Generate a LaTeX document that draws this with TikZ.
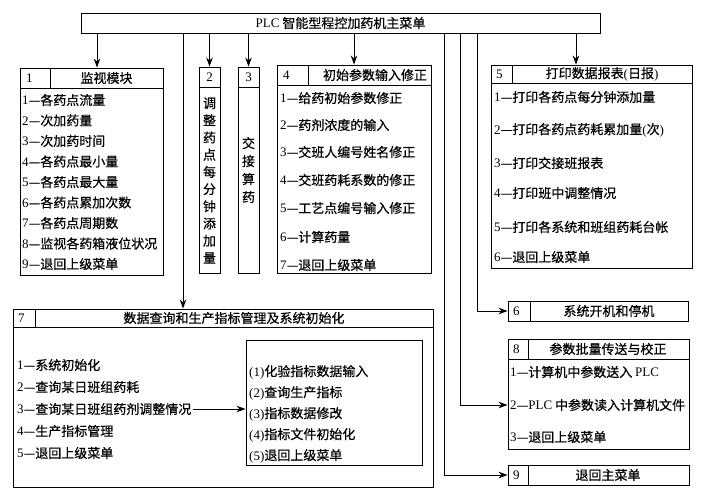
\documentclass[tikz,border=0pt]{standalone}
\usepackage{fontspec}
\setmainfont{Noto Sans CJK SC}[FakeBold=0.5]
\newfontfamily\latinf{Liberation Serif}
\usetikzlibrary{arrows.meta,fit}
\newcommand\lt[1]{{\latinf #1}}
\begin{document}
\begin{tikzpicture}[x=1pt,y=-1pt,
  box/.style={draw,line width=0.9pt,inner sep=0pt},
  txt/.style={inner sep=0pt,anchor=west,font=\fontsize{13}{14}\selectfont},
  ctxt/.style={inner sep=0pt,font=\fontsize{13}{14}\selectfont},
  arr/.style={line width=0.9pt,-{Stealth[length=9pt,width=6.5pt]}},
  ln/.style={line width=0.9pt}]
\useasboundingbox[fill=white] (0,0) rectangle (706,501);

% main
\node[box,fit={(81,13)(600,33)}] (main) {};
\node[ctxt] (mt) at (main.center) {\lt{PLC} 智能型程控加药机主菜单};

% box 1
\node[box,fit={(20,68)(163,275)}] (b1) {};
\node[box,fit={(20,68)(163,88)}] (b1h) {};
\node[box,fit={(20,68)(50,88)}] (b1n) {};
\node[txt] (b1nt) at (26,78) {\lt{1}};
\node[ctxt] (b1t) at (106.5,78) {监视模块};
\foreach \t [count=\i] in {各药点流量,次加药量,次加药时间,各药点最小量,各药点最大量,各药点累加次数,各药点周期数,监视各药箱液位状况,退回上级菜单}
  \node[txt] (b1i\i) at (22,{100+20.5*(\i-1)}) {\lt{\i}—\t};

% box 2
\node[box,fit={(199,67)(220,273)}] (b2) {};
\node[box,fit={(199,67)(220,87)}] (b2h) {};
\node[ctxt] (b2nt) at (b2h.center) {\lt{2}};
\node[ctxt,align=center,font=\fontsize{13}{17.2}\selectfont] (b2t) at (209.5,180.5) {调\\整\\药\\点\\每\\分\\钟\\添\\加\\量};

% box 3
\node[box,fit={(238,67)(259,273)}] (b3) {};
\node[box,fit={(238,67)(259,87)}] (b3h) {};
\node[ctxt] (b3nt) at (b3h.center) {\lt{3}};
\node[ctxt,align=center,font=\fontsize{13}{18}\selectfont] (b3t) at (248.5,170) {交\\接\\算\\药};

% box 4
\node[box,fit={(277,65)(431,273)}] (b4) {};
\node[box,fit={(277,65)(431,85)}] (b4h) {};
\node[box,fit={(277,65)(308,85)}] (b4n) {};
\node[txt] (b4nt) at (283,75) {\lt{4}};
\node[ctxt] (b4t) at (375,75) {初始参数输入修正};
\foreach \t/\yy [count=\i] in {给药初始参数修正/98,药剂浓度的输入/125,交班人编号姓名修正/152,交班药耗系数的修正/180,工艺点编号输入修正/208,计算药量/237,退回上级菜单/265}
  \node[txt] (b4i\i) at (280,\yy) {\lt{\i}—\t};

% box 5
\node[box,fit={(491,65)(692,268)}] (b5) {};
\node[box,fit={(491,65)(692,83)}] (b5h) {};
\node[box,fit={(491,65)(512,83)}] (b5n) {};
\node[txt] (b5nt) at (496,74) {\lt{5}};
\node[ctxt] (b5t) at (602,74) {打印数据报表\lt{(}日报\lt{)}};
\foreach \t/\yy [count=\i] in {打印各药点每分钟添加量/97,打印各药点药耗累加量\lt{(}次\lt{)}/130,打印交接班报表/163,打印班中调整情况/193,打印各系统和班组药耗台帐/227,退回上级菜单/257}
  \node[txt] (b5i\i) at (494,\yy) {\lt{\i}—\t};

% box 6
\node[box,fit={(508,301)(688,321)}] (b6) {};
\node[box,fit={(508,301)(530,321)}] (b6n) {};
\node[txt] (b6nt) at (513,311) {\lt{6}};
\node[ctxt] (b6t) at (609,311) {系统开机和停机};

% box 8
\node[box,fit={(508,339)(689,449)}] (b8) {};
\node[box,fit={(508,339)(689,359)}] (b8h) {};
\node[box,fit={(508,339)(528,359)}] (b8n) {};
\node[txt] (b8nt) at (513,349) {\lt{8}};
\node[ctxt] (b8t) at (608,349) {参数批量传送与校正};
\node[txt] (b8i1) at (510,372) {\lt{1}—计算机中参数送入 \lt{PLC}};
\node[txt] (b8i2) at (510,405) {\lt{2}—\lt{PLC} 中参数读入计算机文件};
\node[txt] (b8i3) at (510,437) {\lt{3}—退回上级菜单};

% box 9
\node[box,fit={(508,465)(689,485)}] (b9) {};
\node[box,fit={(508,465)(528,485)}] (b9n) {};
\node[txt] (b9nt) at (513,475) {\lt{9}};
\node[ctxt] (b9t) at (608,475) {退回主菜单};

% box 7
\node[box,fit={(13,309)(433,487)}] (b7) {};
\node[box,fit={(13,309)(433,327)}] (b7h) {};
\node[box,fit={(13,309)(35,327)}] (b7n) {};
\node[txt] (b7nt) at (18,318) {\lt{7}};
\node[ctxt] (b7t) at (234,318) {数据查询和生产指标管理及系统初始化};
\foreach \t [count=\i] in {系统初始化,查询某日班组药耗,查询某日班组药剂调整情况,生产指标管理,退回上级菜单}
  \node[txt] (b7i\i) at (17,{365+22*(\i-1)}) {\lt{\i}—\t};
\node[box,fit={(246,340)(422,465)}] (b7s) {};
\foreach \t [count=\i] in {化验指标数据输入,查询生产指标,指标数据修改,指标文件初始化,退回上级菜单}
  \node[txt] (b7s\i) at (249,{372+21*(\i-1)}) {\lt{(\i)}\t};

% connectors
\draw[arr] (main.south -| 97,0) -- (b1.north -| 97,0);
\draw[arr] (main.south -| 183,0) -- (b7.north -| 183,0);
\draw[arr] (main.south -| b2.north) -- (b2.north);
\draw[arr] (main.south -| b3.north) -- (b3.north);
\draw[arr] (main.south -| b4.north) -- (b4.north);
\draw[arr] (main.south -| 576,0) -- (b5.north -| 576,0);
\draw[arr] (main.south -| 477,0) |- (b6.west);
\draw[arr] (main.south -| 460,0) |- (b8.west |- b8i2.west);
\draw[arr] (main.south -| 444,0) |- (b9.west);
\draw[arr] ([xshift=1pt]b7i3.east) -- (b7s.west |- b7i3.east);
\end{tikzpicture}
\end{document}
